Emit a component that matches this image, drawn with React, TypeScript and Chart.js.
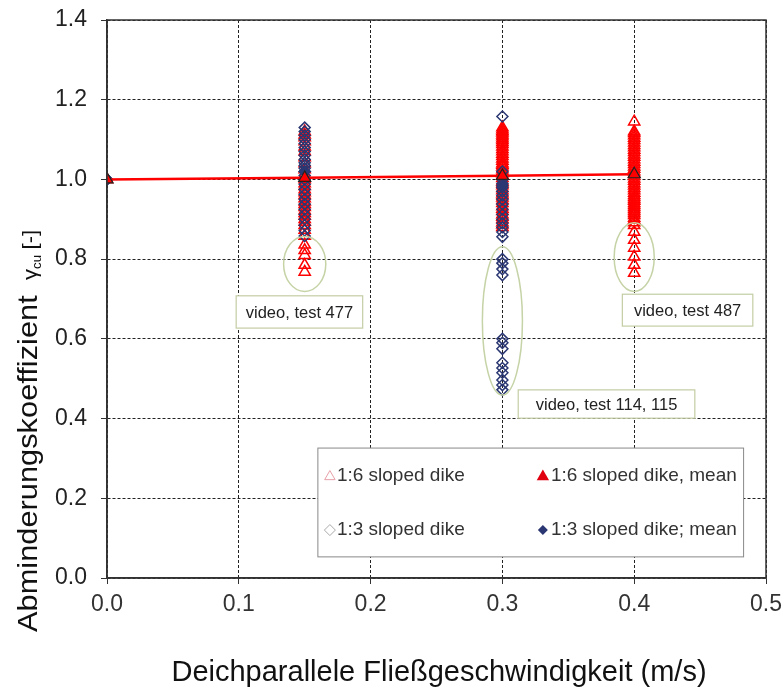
import React, { useEffect, useRef } from "react";
import { Chart, registerables } from "chart.js";

Chart.register(...registerables);

// ---- data ----
const xCategories = [0.0, 0.15, 0.3, 0.4];
const xTickValues = [0.0, 0.1, 0.2, 0.3, 0.4, 0.5];
const yTickValues = [0.0, 0.2, 0.4, 0.6, 0.8, 1.0, 1.2, 1.4];

// 1:6 sloped dike, individual values (open red triangles)
const dike16_v000 = [1.0];
const dike16_v015 = [0.768, 0.785, 0.81, 0.822, 0.836, 0.858, 0.873, 0.885, 0.893, 0.9, 0.908, 0.915, 0.922, 0.93, 0.938, 0.944, 0.952, 0.96, 0.967, 0.975, 0.983, 0.99, 1.0, 1.012, 1.025, 1.04, 1.055, 1.07, 1.082, 1.095, 1.105, 1.112, 1.12];
const dike16_v030 = [0.88, 0.886, 0.892, 0.9, 0.906, 0.912, 0.92, 0.926, 0.932, 0.94, 0.948, 0.954, 0.96, 0.965, 0.972, 0.978, 0.985, 0.99, 0.995, 1.003, 1.01, 1.015, 1.02, 1.025, 1.032, 1.036, 1.04, 1.046, 1.052, 1.058, 1.064, 1.07, 1.076, 1.082, 1.088, 1.093, 1.098, 1.103, 1.108, 1.112, 1.117, 1.121, 1.125, 1.13];
const dike16_v040 = [0.765, 0.785, 0.806, 0.828, 0.848, 0.868, 0.885, 0.892, 0.898, 0.903, 0.91, 0.915, 0.92, 0.925, 0.93, 0.935, 0.94, 0.946, 0.95, 0.955, 0.96, 0.966, 0.972, 0.978, 0.984, 0.99, 0.996, 1.002, 1.008, 1.014, 1.02, 1.026, 1.032, 1.038, 1.044, 1.05, 1.056, 1.062, 1.068, 1.074, 1.08, 1.086, 1.092, 1.098, 1.104, 1.11, 1.116, 1.12, 1.145];

// 1:3 sloped dike, individual values (open navy diamonds)
const dike13_v000 = [1.0];
const dike13_v015 = [0.858, 0.872, 0.885, 0.9, 0.912, 0.925, 0.938, 0.95, 0.962, 0.975, 0.988, 1.0, 1.01, 1.02, 1.028, 1.035, 1.042, 1.05, 1.06, 1.07, 1.08, 1.09, 1.1, 1.11, 1.12, 1.13];
const dike13_v030 = [0.472, 0.484, 0.497, 0.515, 0.527, 0.54, 0.575, 0.59, 0.6, 0.76, 0.775, 0.79, 0.8, 0.856, 0.868, 0.88, 0.89, 0.9, 0.912, 0.925, 0.938, 0.95, 0.96, 0.97, 0.98, 0.99, 1.0, 1.02, 1.158];

// means
const mean16_x = [0.0, 0.15, 0.3, 0.4];
const mean16_y = [1.0, 1.004, 1.009, 1.013];
const mean13_x = [0.0, 0.15, 0.3];
const mean13_y = [1.0, 1.02, 0.985];

// annotation notes (data coordinates)
const noteTexts = ["video, test 477", "video, test 487", "video, test 114, 115"];
const noteX0 = [0.098, 0.391, 0.312];
const noteX1 = [0.194, 0.49, 0.446];
const noteY0 = [0.708, 0.712, 0.472];
const noteY1 = [0.627, 0.632, 0.401];

// ellipses around the video-tests (data coordinates: centre and radii)
const ellCx = [0.15, 0.3, 0.4];
const ellCy = [0.788, 0.645, 0.805];
const ellRx = [0.016, 0.0152, 0.0152];
const ellRy = [0.069, 0.186, 0.086];

// legend box in data coordinates
const legendX = [0.160, 0.483];
const legendY = [0.326, 0.053];
const legendLabels = ["1:6 sloped dike", "1:6 sloped dike, mean", "1:3 sloped dike", "1:3 sloped dike; mean"];

const xTitle = "Deichparallele Fließgeschwindigkeit (m/s)";
const yTitleMain = "Abminderungskoeffizient";

const RED = "#ff0000";
const NAVY = "#2a3772";
const FONT = "'Liberation Sans', Arial, sans-serif";

const col = (x: number, ys: number[]) => ys.map((y) => ({ x, y }));

function triangle(ctx: CanvasRenderingContext2D, x: number, y: number, r: number) {
  ctx.beginPath();
  ctx.moveTo(x, y - r);
  ctx.lineTo(x + r * 0.95, y + r * 0.65);
  ctx.lineTo(x - r * 0.95, y + r * 0.65);
  ctx.closePath();
}
function diamond(ctx: CanvasRenderingContext2D, x: number, y: number, r: number) {
  ctx.beginPath();
  ctx.moveTo(x, y - r);
  ctx.lineTo(x + r, y);
  ctx.lineTo(x, y + r);
  ctx.lineTo(x - r, y);
  ctx.closePath();
}

const decorPlugin = {
  id: "decor",
  afterDraw(chart: any) {
    const { ctx, chartArea: a, scales } = chart;
    const xs = scales.x, ys = scales.y;
    ctx.save();
    // frame
    ctx.strokeStyle = "#333";
    ctx.lineWidth = 1.5;
    ctx.setLineDash([]);
    ctx.strokeRect(a.left, a.top, a.right - a.left, a.bottom - a.top);

    // ellipses
    ctx.strokeStyle = "#c5d3a6";
    ctx.lineWidth = 1.5;
    for (let i = 0; i < ellCx.length; i++) {
      const cx = xs.getPixelForValue(ellCx[i]);
      const cy = ys.getPixelForValue(ellCy[i]);
      const rx = Math.abs(xs.getPixelForValue(ellCx[i] + ellRx[i]) - cx);
      const ry = Math.abs(ys.getPixelForValue(ellCy[i] + ellRy[i]) - cy);
      ctx.beginPath();
      ctx.ellipse(cx, cy, rx, ry, 0, 0, Math.PI * 2);
      ctx.stroke();
    }

    // notes
    ctx.font = `16.5px ${FONT}`;
    ctx.textBaseline = "middle";
    ctx.textAlign = "center";
    for (let i = 0; i < noteTexts.length; i++) {
      const x0 = xs.getPixelForValue(noteX0[i]);
      const x1 = xs.getPixelForValue(noteX1[i]);
      const y0 = ys.getPixelForValue(noteY0[i]);
      const y1 = ys.getPixelForValue(noteY1[i]);
      ctx.fillStyle = "#fff";
      ctx.fillRect(x0, y0, x1 - x0, y1 - y0);
      ctx.strokeStyle = "#c3cda4";
      ctx.lineWidth = 1.2;
      ctx.strokeRect(x0, y0, x1 - x0, y1 - y0);
      ctx.fillStyle = "#222";
      ctx.fillText(noteTexts[i], (x0 + x1) / 2, (y0 + y1) / 2 + 1);
    }

    // legend
    const lx0 = xs.getPixelForValue(legendX[0]);
    const lx1 = xs.getPixelForValue(legendX[1]);
    const ly0 = ys.getPixelForValue(legendY[0]);
    const ly1 = ys.getPixelForValue(legendY[1]);
    ctx.fillStyle = "#fff";
    ctx.fillRect(lx0, ly0, lx1 - lx0, ly1 - ly0);
    ctx.strokeStyle = "#888";
    ctx.lineWidth = 1;
    ctx.strokeRect(lx0, ly0, lx1 - lx0, ly1 - ly0);
    ctx.font = `19px ${FONT}`;
    ctx.textAlign = "left";
    ctx.fillStyle = "#333";
    const rows = [ly0 + 28, ly0 + 82];
    const cols = [lx0 + 12, lx0 + 225];
    // markers
    ctx.lineWidth = 1;
    triangle(ctx, cols[0], rows[0], 5.5); ctx.strokeStyle = "#e7a0a8"; ctx.stroke();
    triangle(ctx, cols[1], rows[0], 6.5); ctx.fillStyle = "#e00010"; ctx.fill();
    diamond(ctx, cols[0], rows[1], 5.5); ctx.strokeStyle = "#aaa"; ctx.stroke();
    diamond(ctx, cols[1], rows[1], 5); ctx.fillStyle = NAVY; ctx.fill();
    ctx.fillStyle = "#333";
    ctx.fillText(legendLabels[0], cols[0] + 7, rows[0]);
    ctx.fillText(legendLabels[1], cols[1] + 8, rows[0]);
    ctx.fillText(legendLabels[2], cols[0] + 7, rows[1]);
    ctx.fillText(legendLabels[3], cols[1] + 8, rows[1]);

    // x title
    ctx.fillStyle = "#111";
    ctx.textAlign = "center";
    ctx.textBaseline = "alphabetic";
    ctx.font = `29px ${FONT}`;
    ctx.fillText(xTitle, 439, 681);

    // y title (rotated)
    ctx.save();
    ctx.translate(37, 632);
    ctx.rotate(-Math.PI / 2);
    ctx.scale(1.1, 1);
    ctx.textAlign = "left";
    ctx.font = `28px ${FONT}`;
    ctx.fillText(yTitleMain, 0, 0);
    let w = ctx.measureText(yTitleMain).width + 14;
    ctx.font = `20px ${FONT}`;
    ctx.fillText("γ", w, 0);
    w += ctx.measureText("γ").width;
    ctx.font = `12px ${FONT}`;
    ctx.fillText("cu", w, 4);
    w += ctx.measureText("cu").width + 5;
    ctx.font = `20px ${FONT}`;
    ctx.fillText("[-]", w, 0);
    ctx.restore();

    ctx.restore();
  },
};

export default function App() {
  const ref = useRef<HTMLCanvasElement>(null);
  useEffect(() => {
    document.body.style.margin = "0";
    const openTri = { pointStyle: "triangle", pointRadius: 6.5, borderColor: RED, backgroundColor: "rgba(0,0,0,0)", borderWidth: 1.5, showLine: false };
    const openDia = { pointStyle: "rectRot", pointRadius: 5.5, borderColor: NAVY, backgroundColor: "rgba(0,0,0,0)", borderWidth: 1.5, showLine: false };
    const chart = new Chart(ref.current!, {
      type: "scatter",
      data: {
        datasets: [
          { label: "1:6 sloped dike", order: 4, data: [...col(xCategories[0], dike16_v000), ...col(xCategories[1], dike16_v015), ...col(xCategories[2], dike16_v030), ...col(xCategories[3], dike16_v040)], ...openTri } as any,
          { label: "1:3 sloped dike", order: 3, data: [...col(xCategories[0], dike13_v000), ...col(xCategories[1], dike13_v015), ...col(xCategories[2], dike13_v030)], ...openDia } as any,
          { label: "1:6 sloped dike, mean", order: 1, data: mean16_x.map((x, i) => ({ x, y: mean16_y[i] })), showLine: true, borderColor: RED, borderWidth: 2.5, pointStyle: "triangle", pointRadius: 7, pointBackgroundColor: RED, pointBorderColor: "#222", pointBorderWidth: 1.2 } as any,
          { label: "1:3 sloped dike; mean", order: 2, data: mean13_x.map((x, i) => ({ x, y: mean13_y[i] })), showLine: false, pointStyle: "rectRot", pointRadius: 6, pointBackgroundColor: NAVY, pointBorderColor: NAVY, pointBorderWidth: 1 } as any,
        ],
      },
      options: {
        animation: false,
        responsive: false,
        maintainAspectRatio: false,
        layout: { padding: { top: 20, right: 17, left: 0, bottom: 0 } },
        plugins: { legend: { display: false }, tooltip: { enabled: false }, title: { display: false } },
        scales: {
          x: {
            type: "linear",
            min: xTickValues[0],
            max: xTickValues[xTickValues.length - 1],
            afterBuildTicks: (s: any) => { s.ticks = xTickValues.map((v) => ({ value: v })); },
            afterFit: (s: any) => { s.height = 111; s.paddingLeft = 0; s.paddingRight = 0; },
            ticks: { callback: (v: any) => Number(v).toFixed(1), color: "#333", font: { family: FONT, size: 23 }, padding: 7, maxRotation: 0 },
            grid: { color: "#222", lineWidth: 1, tickLength: 6, tickColor: "#333", tickBorderDash: [] as any },
            border: { display: true, color: "#333", width: 1.5, dash: [3, 2] },
          },
          y: {
            type: "linear",
            min: yTickValues[0],
            max: yTickValues[yTickValues.length - 1],
            afterBuildTicks: (s: any) => { s.ticks = yTickValues.map((v) => ({ value: v })); },
            afterFit: (s: any) => { s.width = 107; s.paddingTop = 0; s.paddingBottom = 0; },
            ticks: { callback: (v: any) => Number(v).toFixed(1), color: "#222", font: { family: FONT, size: 23 }, padding: 14 },
            grid: { color: "#222", lineWidth: 1, tickLength: 6, tickColor: "#333", tickBorderDash: [] as any },
            border: { display: true, color: "#333", width: 1.5, dash: [3, 2] },
          },
        },
      } as any,
      plugins: [decorPlugin],
    });
    return () => chart.destroy();
  }, []);
  return <canvas ref={ref} width={783} height={689} style={{ display: "block", width: 783, height: 689 }} />;
}
